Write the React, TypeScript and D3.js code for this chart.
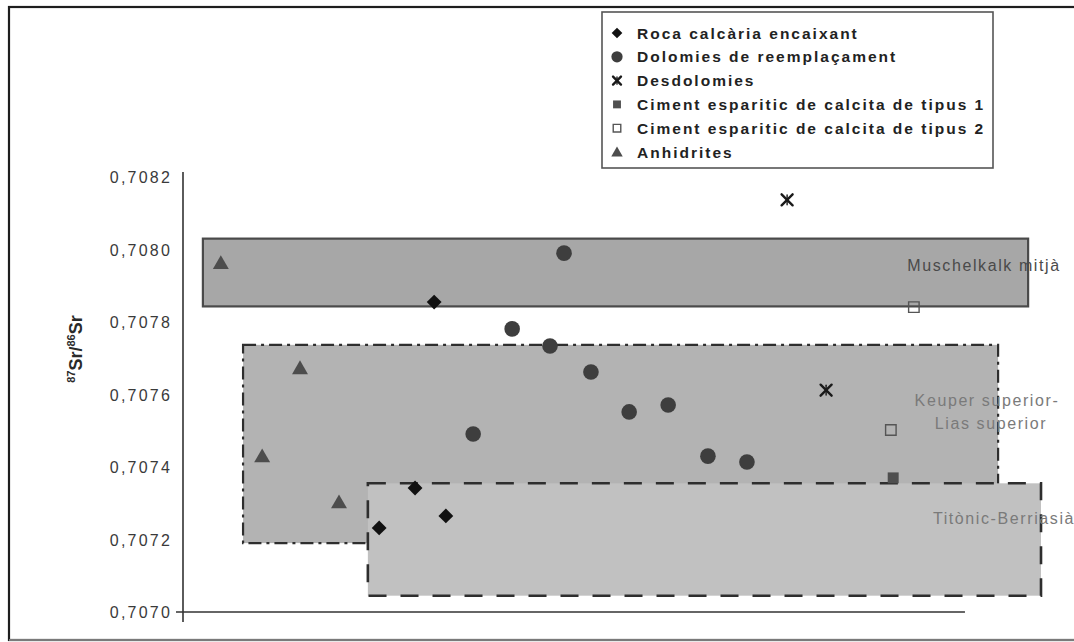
import React from "react";
import * as d3 from "d3";

// Sample positions along the (unlabelled) horizontal axis, and 87Sr/86Sr ratios
const rocaX = [6.44, 5.03, 5.95, 6.74];
const rocaY = [0.707855, 0.707232, 0.707342, 0.707265];

const dolomiesX = [9.77, 8.44, 9.41, 10.46, 11.44, 12.44, 13.46, 14.46, 7.44];
const dolomiesY = [0.70799, 0.707781, 0.707734, 0.707662, 0.707552, 0.707571, 0.70743, 0.707414, 0.707491];

const desdolomiesX = [15.49, 16.49];
const desdolomiesY = [0.708137, 0.707612];

const ciment1X = [18.21];
const ciment1Y = [0.70737];

const ciment2X = [18.74, 18.15];
const ciment2Y = [0.707841, 0.707502];

const anhidritesX = [0.97, 3.0, 2.03, 4.0];
const anhidritesY = [0.707963, 0.707673, 0.70743, 0.707303];

// Sea-water reference ranges for each period
const periodNames = ["Muschelkalk mitjà", "Keuper superior-Lias superior", "Titònic-Berriasià"];
const periodX0 = [0.51, 1.54, 4.74];
const periodX1 = [21.67, 20.9, 22.0];
const periodYMin = [0.707843, 0.70719, 0.707045];
const periodYMax = [0.70803, 0.707737, 0.707355];

const yTicks = [0.707, 0.7072, 0.7074, 0.7076, 0.7078, 0.708, 0.7082];

const legendLabels = [
  "Roca calcària encaixant",
  "Dolomies de reemplaçament",
  "Desdolomies",
  "Ciment esparitic de calcita de tipus 1",
  "Ciment esparitic de calcita de tipus 2",
  "Anhidrites",
];

const W = 1074;
const H = 642;
const FONT = "'Liberation Sans', Arial, sans-serif";

const x = d3.scaleLinear().domain([0, 22]).range([183, 1041]);
const y = d3.scaleLinear().domain([0.707, 0.7082]).range([612, 177]);

const fmt = (v: number) => v.toFixed(4).replace(".", ",");

type Kind = "diamond" | "circle" | "x" | "sq" | "osq" | "tri";

function Marker({ kind, cx, cy, s = 1 }: { kind: Kind; cx: number; cy: number; s?: number }) {
  const t = `translate(${cx},${cy})`;
  if (kind === "diamond") {
    const p = d3.symbol().type(d3.symbolSquare).size(110 * s * s)()!;
    return <path d={p} transform={`${t} rotate(45)`} fill="#111" />;
  }
  if (kind === "circle") {
    return <circle cx={cx} cy={cy} r={7.8 * s} fill="#3e3e3e" />;
  }
  if (kind === "tri") {
    const p = d3.symbol().type(d3.symbolTriangle).size(110 * s * s)()!;
    return <path d={p} transform={`${t} translate(0,${1.5 * s})`} fill="#4d4d4d" />;
  }
  if (kind === "sq") {
    const p = d3.symbol().type(d3.symbolSquare).size(120 * s * s)()!;
    return <path d={p} transform={t} fill="#4f4f4f" />;
  }
  if (kind === "osq") {
    const p = d3.symbol().type(d3.symbolSquare).size(110 * s * s)()!;
    return <path d={p} transform={t} fill="none" stroke="#555" strokeWidth={1.4} />;
  }
  const h = 5.5 * s;
  return (
    <g transform={t} stroke="#1a1a1a" strokeWidth={2.4} strokeLinecap="round">
      <line x1={-h} y1={-h} x2={h} y2={h} />
      <line x1={-h} y1={h} x2={h} y2={-h} />
      <line x1={0} y1={-h * 0.9} x2={0} y2={h * 0.9} strokeWidth={1.4} />
    </g>
  );
}

const series: { kind: Kind; xs: number[]; ys: number[] }[] = [
  { kind: "tri", xs: anhidritesX, ys: anhidritesY },
  { kind: "diamond", xs: rocaX, ys: rocaY },
  { kind: "circle", xs: dolomiesX, ys: dolomiesY },
  { kind: "x", xs: desdolomiesX, ys: desdolomiesY },
  { kind: "osq", xs: ciment2X, ys: ciment2Y },
  { kind: "sq", xs: ciment1X, ys: ciment1Y },
];

const legendKinds: Kind[] = ["diamond", "circle", "x", "sq", "osq", "tri"];

export default function App() {
  const boxStyles = [
    { fill: "#a7a7a7", stroke: "#4a4a4a", dash: "none", sw: 2.2 },
    { fill: "#b3b3b3", stroke: "#2e2e2e", dash: "13 5 3 5", sw: 2.2 },
    { fill: "#c1c1c1", stroke: "#2e2e2e", dash: "18 14", sw: 2.6 },
  ];

  return (
    <svg
      width={W}
      height={H}
      style={{ position: "absolute", left: 0, top: 0, background: "#fff" }}
      fontFamily={FONT}
    >
      {/* outer frame */}
      <rect x={9} y={7} width={W + 20} height={633} fill="#fff" stroke="#1e1e1e" strokeWidth={2.2} />
      <line x1={9} y1={640} x2={W} y2={640} stroke="#9a9a9a" strokeWidth={1.6} />

      {/* period ranges */}
      {periodNames.map((name, i) => {
        const st = boxStyles[i];
        return (
          <rect
            key={name}
            x={x(periodX0[i])}
            y={y(periodYMax[i])}
            width={x(periodX1[i]) - x(periodX0[i])}
            height={y(periodYMin[i]) - y(periodYMax[i])}
            fill={st.fill}
            stroke={st.stroke}
            strokeWidth={st.sw}
            strokeDasharray={st.dash}
          />
        );
      })}

      {/* period labels */}
      <g fontSize={16} letterSpacing={1.6} textAnchor="middle">
        <text x={984} y={271} fill="#4a4a4a">
          {periodNames[0]}
        </text>
        <text x={987} y={406} fill="#7a7a7a">
          Keuper superior-
        </text>
        <text x={991} y={429} fill="#7a7a7a">
          Lias superior
        </text>
        <text x={1004} y={524} fill="#7a7a7a">
          {periodNames[2]}
        </text>
      </g>

      {/* axes */}
      <line x1={183} y1={172} x2={183} y2={622} stroke="#333" strokeWidth={1.6} />
      <line x1={176} y1={y(0.707)} x2={x(20.05)} y2={y(0.707)} stroke="#333" strokeWidth={1.6} />
      {yTicks.map((t) => (
        <text
          key={t}
          x={172}
          y={y(t) + 6}
          fontSize={16}
          letterSpacing={2.2}
          fill="#3a3a3a"
          textAnchor="end"
        >
          {fmt(t)}
        </text>
      ))}
      <text
        transform="translate(82,349) rotate(-90)"
        fontSize={18}
        fontWeight="bold"
        fill="#2a2a2a"
        textAnchor="middle"
      >
        <tspan fontSize={11} dy={-7}>87</tspan>
        <tspan dy={7}>Sr/</tspan>
        <tspan fontSize={11} dy={-7}>86</tspan>
        <tspan dy={7}>Sr</tspan>
      </text>

      {/* data points */}
      {series.map((s) =>
        s.xs.map((xv, j) => (
          <Marker key={`${s.kind}-${j}`} kind={s.kind} cx={x(xv)} cy={y(s.ys[j])} />
        ))
      )}

      {/* legend */}
      <rect x={602} y={12} width={391} height={156} fill="#fff" stroke="#555" strokeWidth={1.6} />
      {legendLabels.map((lab, i) => {
        const cy = 33 + i * 23.8;
        return (
          <g key={lab}>
            <Marker kind={legendKinds[i]} cx={617} cy={cy} s={0.72} />
            <text x={637} y={cy + 5.5} fontSize={15.5} letterSpacing={2} fontWeight="bold" fill="#222">
              {lab}
            </text>
          </g>
        );
      })}
    </svg>
  );
}
